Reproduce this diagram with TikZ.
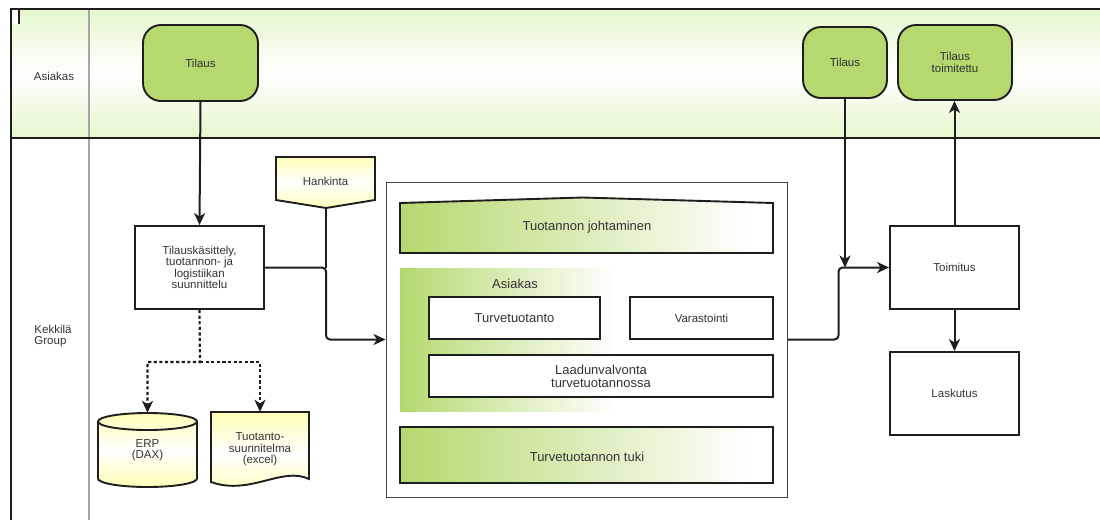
\documentclass[tikz,border=0pt]{standalone}
\usepackage{fontspec}
\setmainfont{Liberation Sans}
\usetikzlibrary{arrows.meta}

\definecolor{boxgreen}{HTML}{B5D96E}
\definecolor{lanegreen}{HTML}{E4F7CD}
\definecolor{docyellow}{HTML}{FFFFB8}
\definecolor{ink}{HTML}{1E1E1E}
\definecolor{txt}{HTML}{333333}
\definecolor{frame}{HTML}{444444}

% green on the left fading to white towards the right
\pgfdeclarehorizontalshading{greenfade}{100bp}{color(0bp)=(boxgreen); color(25bp)=(boxgreen); color(72bp)=(white); color(100bp)=(white)}

\newcommand\txtsize[1]{\fontsize{#1}{#1}\selectfont}

\tikzset{
  lanelabel/.style={text=txt, font=\txtsize{11.5}, inner sep=0},
  procbox/.style={draw=ink, line width=1.9, fill=white, text=txt, font=\txtsize{11.5},
    align=center, inner sep=0},
  event/.style={draw=ink, line width=1.9, fill=boxgreen, text=txt, font=\txtsize{11.5},
    align=center, inner sep=0, rounded corners=18},
  innerbox/.style={draw=ink, line width=1.9, fill=white, text=txt, font=\txtsize{13},
    align=center, inner sep=0},
  bigtext/.style={text=txt, font=\txtsize{13}, align=center, inner sep=0},
  docfill/.style={draw=ink, line width=1.9, top color=docyellow, bottom color=docyellow, middle color=white},
  conn/.style={draw=ink, line width=2, rounded corners=4, -{Stealth[length=12pt,width=11pt,inset=3.5pt]}},
  plainline/.style={draw=ink, line width=2, rounded corners=4},
  dotconn/.style={draw=ink, line width=2.2, dash pattern=on 3.2pt off 2.4pt,
    -{Stealth[length=12pt,width=11pt,inset=3.5pt]}},
}

\begin{document}
\begin{tikzpicture}[x=1pt,y=-1pt]
\useasboundingbox (0,0) rectangle (1100,520);

% swimlanes
\fill[top color=lanegreen, bottom color=lanegreen, middle color=white] (11,9) rectangle (1100,138);
\draw[gray!70, line width=1.6] (89,9) -- (89,520);
\draw[ink, line width=2] (1100,9) -- (11,9) -- (11,520);
\draw[ink, line width=2] (11,138) -- (1100,138);
\fill[white] (12,10) rectangle (18,24);
\draw[ink, line width=2] (18.5,9) -- (18.5,24);

\node[lanelabel] (laneA) at (54,76) {Asiakas};
\node[lanelabel, align=left] (laneK) at (53,336) {Kekkilä\\[-0.5pt]Group};

% customer events
\node[event, minimum width=115, minimum height=76] (tilA) at (200.5,63) {Tilaus};
\node[event, minimum width=84, minimum height=71] (tilB) at (845,62.5) {Tilaus};
\node[event, minimum width=114, minimum height=75] (tilC) at (955,62.5) {Tilaus\\toimitettu};

% order handling
\node[procbox, minimum width=129, minimum height=83] (plan) at (199.5,267.5)
  {Tilauskäsittely,\\tuotannon- ja\\logistiikan\\suunnittelu};

% procurement (off-page connector)
\path[docfill] (276,157) -- (375,157) -- (375,200) -- (326,208) -- (276,200) -- cycle;
\node[lanelabel] (hank) at (325.5,181) {Hankinta};
\coordinate (hkTip) at (326,208);

% production container
\node[draw=frame, line width=1, fill=white, minimum width=401, minimum height=315, inner sep=0]
  (cont) at (586.5,339.5) {};

\path[draw=ink, line width=1.9, shading=greenfade]
  (400,203) -- (583,197.5) -- (773,203) -- (773,253) -- (400,253) -- cycle;
\node[bigtext] (johto) at (587,227.5) {Tuotannon johtaminen};

\fill[shading=greenfade] (400,268) rectangle (628,411);
\node[bigtext] (asreg) at (515,284) {Asiakas};

\node[innerbox, minimum width=171, minimum height=42] (turve) at (514.5,318) {Turvetuotanto};
\node[innerbox, font=\txtsize{11.5}, minimum width=143, minimum height=42] (varas) at (701.5,318) {Varastointi};
\node[innerbox, minimum width=344, minimum height=42] (laatu) at (601,376)
  {Laadunvalvonta\\turvetuotannossa};

\path[draw=ink, line width=1.9, shading=greenfade] (400,427) rectangle (773,483);
\node[bigtext] (tuki) at (587,456.5) {Turvetuotannon tuki};

% delivery and invoicing
\node[procbox, minimum width=129, minimum height=83] (toim) at (954.5,267.5) {Toimitus};
\node[procbox, minimum width=129, minimum height=83] (lask) at (954.5,393.5) {Laskutus};

% ERP database cylinder
\path[docfill] (98,421.5) -- (98,478.5)
  arc[start angle=180, end angle=0, x radius=49.5, y radius=8.5] -- (197,421.5)
  arc[start angle=0, end angle=-180, x radius=49.5, y radius=8.5] -- cycle;
\draw[ink, line width=1.9] (98,421.5) arc[start angle=180, end angle=0, x radius=49.5, y radius=8.5];
\node[lanelabel, align=center, minimum width=99, minimum height=74] (erp) at (147.5,450) {ERP\\(DAX)};

% production plan document
\path[docfill] (211,412) -- (309,412) -- (309,479)
  .. controls (282,466) and (250,496) .. (211,482) -- cycle;
\node[lanelabel, align=center, minimum width=98, minimum height=75] (tuot) at (260,449.5)
  {Tuotanto-\\suunnitelma\\(excel)};

% connectors
\draw[conn] (tilA.south) -- (plan.north);
\draw[plainline] (hkTip) -- (plan.east -| hkTip);
\draw[conn] (plan.east) -- (plan.east -| hkTip) |- (cont.west);
\coordinate (mergeR) at (838.5,0);
\draw[conn] (cont.east) -- (cont.east -| mergeR) |- (toim.west);
\draw[conn] (tilB.south) -- (tilB.south |- toim.west);
\draw[conn] (toim.north) -- (toim.north |- tilC.south);
\draw[conn] (toim.south) -- (lask.north);

\coordinate (split) at (200,362);
\draw[dotconn] (plan.south) -- (split) -| (erp.north);
\draw[dotconn] (split) -| (tuot.north);
\end{tikzpicture}
\end{document}
